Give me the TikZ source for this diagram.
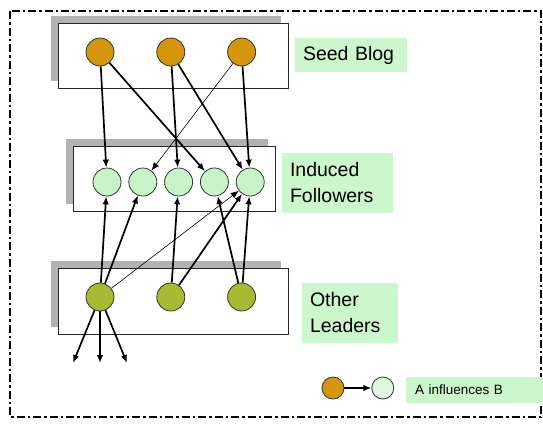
\documentclass[tikz,border=0pt]{standalone}
\usepackage{fontspec}
\setmainfont{Liberation Sans}
\usetikzlibrary{positioning, arrows.meta, shadows}

\definecolor{seedorange}{HTML}{D4960C}
\definecolor{followgreen}{HTML}{C8F2C8}
\definecolor{leaderolive}{HTML}{A8BA34}
\definecolor{labelgreen}{HTML}{CCF7CC}

\begin{document}
\begin{tikzpicture}[x=1pt, y=-1pt, >={Latex[length=8pt, width=6.5pt]},
    blog/.style={circle, draw=black!80, line width=0.8pt, minimum size=28pt, inner sep=0pt},
    panel/.style={draw=black!85, fill=white, line width=1pt, drop shadow={shadow xshift=-7pt, shadow yshift=7pt, fill=gray!60, opacity=1}},
    grouplabel/.style={fill=labelgreen, align=left, inner xsep=8pt, font=\fontsize{19.5}{26}\selectfont},
    strong/.style={->, line width=1.7pt},
    weak/.style={->, line width=0.6pt}]
    \useasboundingbox (0,0) rectangle (543,424);
    \draw[line width=2.4pt, dash pattern=on 8pt off 3pt on 2.5pt off 3pt] (10,11) rectangle (541,417);

    % the three layers
    \node[panel, minimum width=230pt, minimum height=65pt] (seedpanel) at (173,55.5) {};
    \node[panel, minimum width=202pt, minimum height=65pt] (followpanel) at (174,178.5) {};
    \node[panel, minimum width=230pt, minimum height=66pt] (leaderpanel) at (173,301) {};

    \node[blog, fill=seedorange] (s1) at (100,52) {};
    \node[blog, fill=seedorange] (s2) [right=42pt of s1] {};
    \node[blog, fill=seedorange] (s3) [right=42pt of s2] {};

    \node[blog, fill=followgreen] (f1) at (107,182) {};
    \node[blog, fill=followgreen] (f2) [right=7pt of f1] {};
    \node[blog, fill=followgreen] (f3) [right=7pt of f2] {};
    \node[blog, fill=followgreen] (f4) [right=7pt of f3] {};
    \node[blog, fill=followgreen] (f5) [right=7pt of f4] {};

    \node[blog, fill=leaderolive] (l1) at (100,297) {};
    \node[blog, fill=leaderolive] (l2) [right=42pt of l1] {};
    \node[blog, fill=leaderolive] (l3) [right=42pt of l2] {};

    \node[grouplabel, text width=96pt, minimum height=34pt] (seedlabel) at (351,55) {Seed Blog};
    \node[grouplabel, text width=95pt, minimum height=60pt] (followlabel) at (337.5,183) {Induced\\Followers};
    \node[grouplabel, text width=80pt, minimum height=60pt] (leaderlabel) at (350,313) {Other\\Leaders};

    % seeds -> followers
    \draw[strong] (s1) -- (f1);
    \draw[strong] (s1) -- (f4);
    \draw[strong] (s2) -- (f3);
    \draw[strong] (s2) -- (f5);
    \draw[weak] (s3) -- (f2);
    \draw[strong] (s3) -- (f5);

    % leaders -> followers
    \draw[strong] (l1) -- (f1);
    \draw[strong] (l1) -- (f2);
    \draw[weak] (l1) -- (f5);
    \draw[strong] (l2) -- (f3);
    \draw[strong] (l2) -- (f5);
    \draw[strong] (l3) -- (f4);
    \draw[strong] (l3) -- (f5);

    \coordinate (out1) at (73,363);
    \coordinate (out2) at (100,363);
    \coordinate (out3) at (127,363);
    \draw[strong] (l1) -- (out1);
    \draw[strong] (l1) -- (out2);
    \draw[strong] (l1) -- (out3);

    % legend
    \node[blog, fill=seedorange, minimum size=22pt] (lega) at (333,388) {};
    \node[blog, fill=followgreen!60, minimum size=22pt] (legb) [right=27pt of lega] {};
    \draw[strong] (lega) -- (legb);
    \node[fill=labelgreen, align=left, inner xsep=9pt, text width=121pt, minimum height=26pt, font=\fontsize{13.5}{16}\selectfont] (legtext) at (475.5,390) {A influences B};
\end{tikzpicture}
\end{document}
